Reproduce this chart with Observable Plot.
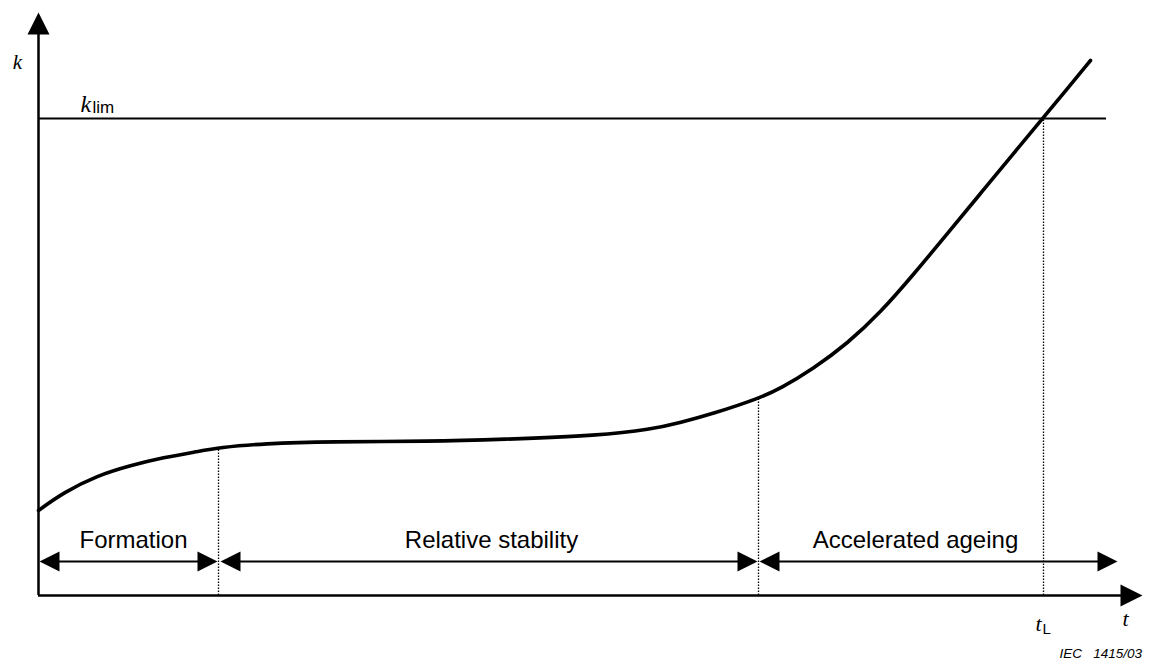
<!DOCTYPE html>
<html>
<head>
<meta charset="utf-8">
<script src="https://cdn.jsdelivr.net/npm/d3@7"></script>
<script src="https://cdn.jsdelivr.net/npm/@observablehq/plot@0.6"></script>
<style>
  html, body { margin: 0; padding: 0; background: #fff; }
  #caption {
    width: 1156px; box-sizing: border-box; padding-right: 14px; margin-top: 6px;
    text-align: right; font: italic 13.5px "Liberation Sans", Arial, sans-serif;
    line-height: 16px; white-space: pre; color: #000;
  }
</style>
</head>
<body>
<div id="chart"></div>
<div id="caption">IEC   1415/03</div>
<script>
// Curve k(t) (arbitrary units)
const curveT = [0, 25, 59, 92, 125, 159, 181, 225, 292, 392, 462, 562, 612, 642, 675, 720, 742, 775, 809, 842, 875, 909, 942, 975, 1004, 1029, 1052];
const curveK = [85, 103, 120, 130, 138, 144, 148, 152, 154, 154, 156, 160, 166, 173, 182, 197, 207, 227, 252, 283, 321, 362, 402, 442, 477, 507, 535];

// Limit value and lifetime
const kLim = 477;
const kLimEnd = 1068;
const tL = 1005;

// Phases
const phaseNames = ["Formation", "Relative stability", "Accelerated ageing"];
const phaseStart = [0, 181, 720];
const phaseEnd = [180, 720, 1080];
const phaseLabelT = [95, 453, 877];
const phaseArrowK = 34;
const phaseLabelK = 48;

// Axis extents
const tMax = 1104;
const kMax = 583;

const curve = curveT.map((t, i) => ({t, k: curveK[i]}));
const kAt = d3.scaleLinear().domain(curveT).range(curveK);
const dividers = [phaseEnd[0], phaseEnd[1], tL].map(t => ({t, k: t === tL ? kLim : kAt(t)}));
const phases = phaseNames.map((name, i) => ({name, start: phaseStart[i], end: phaseEnd[i], lt: phaseLabelT[i]}));

function head(len, wid) {
  return {draw(ctx) { ctx.moveTo(0, 0); ctx.lineTo(-len, -wid / 2); ctx.lineTo(-len, wid / 2); ctx.closePath(); }};
}
const phaseHeads = phases.flatMap(p => [
  {t: p.start + 1, k: phaseArrowK, r: 180},
  {t: p.end - 1, k: phaseArrowK, r: 0}
]);
const axisHeads = [
  {t: 0, k: kMax, r: -90},
  {t: tMax, k: 0, r: 0}
];

const serif = "'Liberation Serif', 'Times New Roman', serif";
const sans = "'Liberation Sans', Arial, sans-serif";

const chart = Plot.plot({
  width: 1156,
  height: 640,
  marginLeft: 38,
  marginRight: 14,
  marginTop: 12,
  marginBottom: 45,
  x: {domain: [0, tMax], axis: null},
  y: {domain: [0, kMax], axis: null},
  style: {background: "#fff", overflow: "visible"},
  marks: [
    // dotted dividers
    Plot.ruleX(dividers, {x: "t", y1: 0, y2: "k", stroke: "#000", strokeWidth: 1.3, strokeDasharray: "1.5,1.5"}),
    // k_lim line
    Plot.ruleY([kLim], {x1: 0, x2: kLimEnd, stroke: "#000", strokeWidth: 1.8}),
    // axes
    Plot.ruleX([0], {y1: 0, y2: kMax - 12, stroke: "#000", strokeWidth: 2.5}),
    Plot.ruleY([0], {x1: 0, x2: tMax - 14, stroke: "#000", strokeWidth: 2.5}),
    Plot.dot(axisHeads, {x: "t", y: "k", rotate: "r", symbol: head(22, 22), fill: "#000", stroke: "none"}),
    // curve
    Plot.line(curve, {x: "t", y: "k", curve: "basis", stroke: "#000", strokeWidth: 3.6}),
    // phase arrows
    Plot.link(phases, {x1: d => d.start + 8, x2: d => d.end - 8, y1: phaseArrowK, y2: phaseArrowK, stroke: "#000", strokeWidth: 1.8}),
    Plot.dot(phaseHeads, {x: "t", y: "k", rotate: "r", symbol: head(20, 20), fill: "#000", stroke: "none"}),
    Plot.text(phases, {x: "lt", y: phaseLabelK, text: "name", fontFamily: sans, fontSize: 24, lineAnchor: "bottom", fill: "#000"}),
    // labels
    Plot.text(["k"], {x: -21, y: 527, fontFamily: serif, fontStyle: "italic", fontSize: 21, lineAnchor: "bottom", fill: "#000"}),
    Plot.text(["k"], {x: 42, y: 484, fontFamily: serif, fontStyle: "italic", fontSize: 24, textAnchor: "start", lineAnchor: "bottom", fill: "#000"}),
    Plot.text(["lim"], {x: 54, y: 483, fontFamily: sans, fontSize: 17, textAnchor: "start", lineAnchor: "bottom", fill: "#000"}),
    Plot.text(["t"], {x: tL - 8, y: -35, fontFamily: serif, fontStyle: "italic", fontSize: 22, textAnchor: "start", lineAnchor: "bottom", fill: "#000"}),
    Plot.text(["L"], {x: tL - 1, y: -38, fontFamily: sans, fontSize: 15, textAnchor: "start", lineAnchor: "bottom", fill: "#000"}),
    Plot.text(["t"], {x: tMax - 20, y: -30, fontFamily: serif, fontStyle: "italic", fontSize: 22, textAnchor: "start", lineAnchor: "bottom", fill: "#000"})
  ]
});
document.getElementById("chart").appendChild(chart);
</script>
</body>
</html>
